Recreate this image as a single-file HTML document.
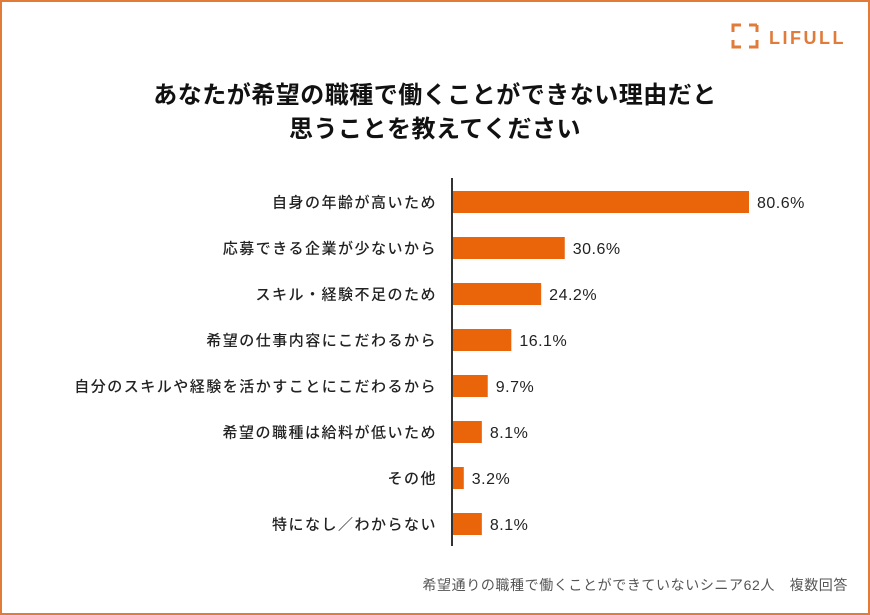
<!DOCTYPE html>
<html><head><meta charset="utf-8"><style>
html,body{margin:0;padding:0;}
body{width:870px;height:615px;position:relative;background:#fff;font-family:"Liberation Sans","Noto Sans CJK JP",sans-serif;overflow:hidden;}
.frame{position:absolute;left:0;top:0;width:866px;height:611px;border:2px solid #E07B3A;}
.title{position:absolute;left:0;width:870px;text-align:center;font-size:24px;font-weight:bold;color:#111;line-height:34px;top:79px;letter-spacing:0.5px;}
.logo{position:absolute;left:731px;top:22px;}
.note{position:absolute;right:22px;top:575px;font-size:14px;color:#555;letter-spacing:0.6px;}
</style></head><body>
<div class="frame"></div>
<div class="logo">
<svg width="120" height="30"><g fill="none" stroke="#E07B3A" stroke-width="3"><path d="M2 10V3H10M2 18V25H10M26 3H18M26 3V10M26 18V25H18"/></g>
<text x="38" y="22" font-size="18" font-weight="bold" fill="#E07B3A" letter-spacing="2.5" font-family="Liberation Sans, sans-serif">LIFULL</text></svg></div>
<div class="title">あなたが希望の職種で働くことができない理由だと<br>思うことを教えてください</div>
<svg id="chart" width="870" height="615" style="position:absolute;left:0;top:0"></svg>
<div class="note">希望通りの職種で働くことができていないシニア62人　複数回答</div>
<script>
const categories=["自身の年齢が高いため","応募できる企業が少ないから","スキル・経験不足のため","希望の仕事内容にこだわるから","自分のスキルや経験を活かすことにこだわるから","希望の職種は給料が低いため","その他","特になし／わからない"];
const values=[80.6,30.6,24.2,16.1,9.7,8.1,3.2,8.1];
const labels=["80.6%","30.6%","24.2%","16.1%","9.7%","8.1%","3.2%","8.1%"];
const svg=document.getElementById('chart');const NS="http://www.w3.org/2000/svg";
const x0=452,pxPer=(749-452)/80.6,y0=191,step=46,bh=22;
const xs=v=>x0+v*pxPer, ys=i=>y0+i*step;
function mk(t,a){const e=document.createElementNS(NS,t);for(const k in a)e.setAttribute(k,a[k]);svg.appendChild(e);return e;}
categories.forEach((c,i)=>{
 const r=mk('rect',{x:x0,y:ys(i),width:xs(values[i])-x0,height:bh,fill:'#EA650A'});
 
 
 const l=mk('text',{x:437,y:ys(i)+bh/2+5.5,'text-anchor':'end','font-size':15,'letter-spacing':1.5,'font-weight':500,fill:'#222'});l.textContent=c;
 
 
 const v=mk('text',{x:xs(values[i])+8,y:ys(i)+bh/2+6,'font-size':16,'letter-spacing':0.5,fill:'#222'});v.textContent=labels[i];
 
 
});
const ax=mk('line',{x1:x0,x2:x0,y1:178,y2:546,stroke:'#333','stroke-width':2});


</script>
</body></html>
